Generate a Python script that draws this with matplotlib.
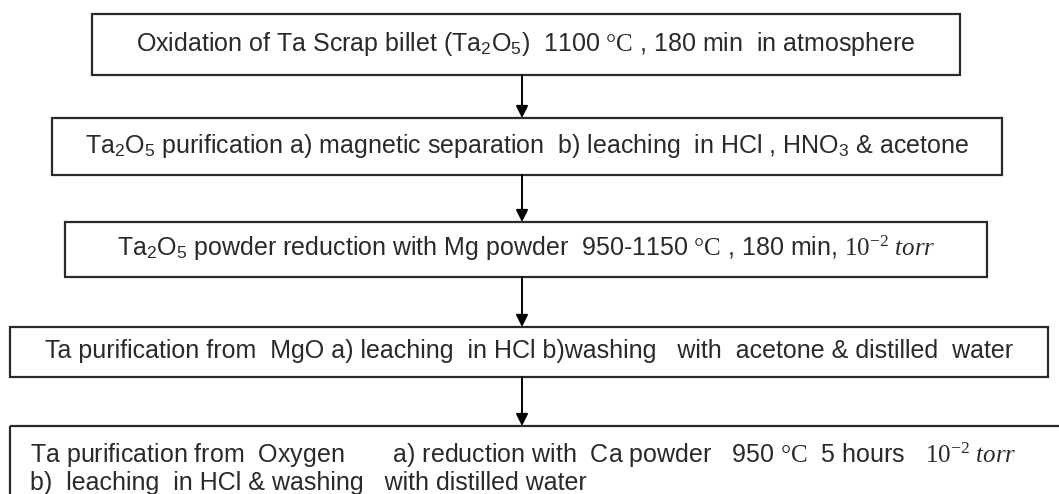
import matplotlib
matplotlib.use("Agg")
import matplotlib.pyplot as plt
from matplotlib.patches import Rectangle

plt.rcParams["font.family"] = ["Liberation Sans", "DejaVu Sans"]
plt.rcParams["mathtext.fontset"] = "custom"
plt.rcParams["mathtext.rm"] = "Liberation Sans"
plt.rcParams["mathtext.it"] = "Liberation Serif:italic"
plt.rcParams["mathtext.sf"] = "Liberation Serif"

DEG = "$\\mathsf{\u00b0C}$"
TORR = r"$\mathsf{10^{-2}}\ \mathit{torr}$"

# process steps, top to bottom
steps = [
    "Oxidation of Ta Scrap billet (Ta$_2$O$_5$)  1100 " + DEG + " , 180 min  in atmosphere",
    "Ta$_2$O$_5$ purification a) magnetic separation  b) leaching  in HCl , HNO$_3$ & acetone",
    "Ta$_2$O$_5$ powder reduction with Mg powder  950-1150 " + DEG + " , 180 min, " + TORR,
    "Ta purification from  MgO a) leaching  in HCl b)washing   with  acetone & distilled  water",
    "Ta purification from  Oxygen       a) reduction with  Ca powder   950 " + DEG
    + "  5 hours   " + TORR + "\nb)  leaching  in HCl & washing   with distilled water",
]

# box layout in pixels: left, top, right, bottom
box_left = [92, 52, 65, 10, 10]
box_top = [14, 118, 222, 327, 426]
box_right = [960, 1002, 987, 1048, 1070]
box_bottom = [75, 175, 277, 377, 510]
arrow_x = 522

W, H = 1059, 494
fig = plt.figure(figsize=(W / 100, H / 100), dpi=100)
ax = fig.add_axes([0, 0, 1, 1])
ax.set_xlim(0, W)
ax.set_ylim(H, 0)
ax.axis("off")

ink = "#2a2a2a"
fs = 18

for i, txt in enumerate(steps):
    l, t, r, b = box_left[i], box_top[i], box_right[i], box_bottom[i]
    ax.add_patch(Rectangle((l, t), r - l, b - t, fill=False,
                           edgecolor=ink, lw=1.6))
    if i < len(steps) - 1:
        ax.text((l + r) / 2, (t + b) / 2 - 1, txt, ha="center", va="center",
                fontsize=fs, color=ink)
        ax.annotate("", xy=(arrow_x, box_top[i + 1]), xytext=(arrow_x, b),
                    arrowprops=dict(arrowstyle="-|>", color="black", lw=1.4,
                                    mutation_scale=18, shrinkA=0, shrinkB=0))
    else:
        ax.text(30, 468, txt, ha="left", va="center", fontsize=fs,
                color=ink, linespacing=1.05)

fig.savefig("out.png", dpi=100)
